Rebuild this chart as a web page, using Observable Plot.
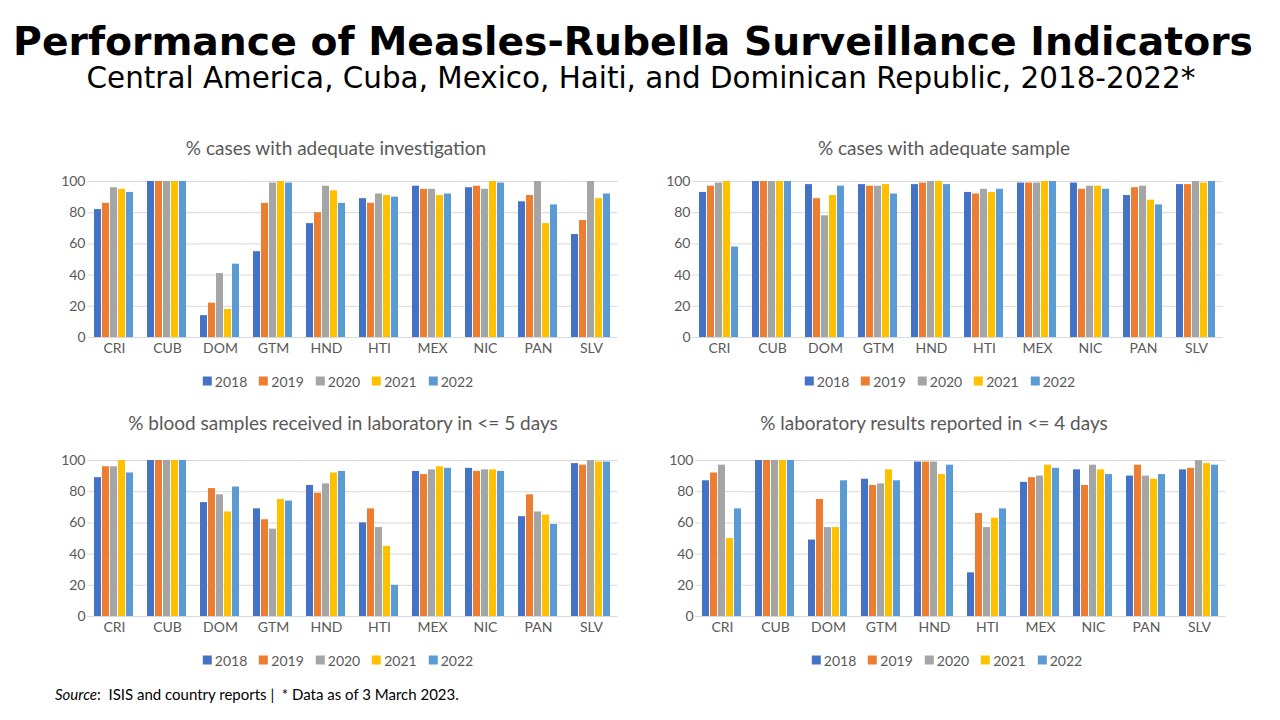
<!DOCTYPE html>
<html>
<head>
<meta charset="utf-8">
<script src="https://cdn.jsdelivr.net/npm/d3@7"></script>
<script src="https://cdn.jsdelivr.net/npm/@observablehq/plot@0.6"></script>
<style>
  html, body { margin: 0; padding: 0; background: #fff; }
  body { width: 1280px; height: 720px; position: relative; overflow: hidden; }
  .abs { position: absolute; }
  .center { transform: translate(-50%, -50%); white-space: nowrap; }
  #title { font-family: "DejaVu Sans", sans-serif; font-weight: bold; font-size: 39.3px; line-height: 1; color: #000; }
  #subtitle { font-family: "DejaVu Sans", sans-serif; font-size: 29.4px; line-height: 1; color: #000; }
  .ptitle { font-family: Lato, sans-serif; font-size: 19px; color: #595959; }
  .legend { font-family: Lato, sans-serif; font-size: 14px; color: #595959; display: flex; align-items: center; }
  .legend .item { display: flex; align-items: center; margin: 0 6px; }
  .legend .sw { width: 9px; height: 9px; margin-right: 3px; display: inline-block; }
  #source { font-family: Lato, sans-serif; font-size: 15px; color: #000; }
</style>
</head>
<body>
<div id="title" class="abs center" style="left:633px; top:42px;">Performance of Measles-Rubella Surveillance Indicators</div>
<div id="subtitle" class="abs center" style="left:641px; top:79px;">Central America, Cuba, Mexico, Haiti, and Dominican Republic, 2018-2022*</div>
<div id="source" class="abs" style="left:55px; top:685px;"><i>Source</i>:&nbsp; ISIS and country reports |&nbsp; * Data as of 3 March 2023.</div>
<script>
const countries = ["CRI","CUB","DOM","GTM","HND","HTI","MEX","NIC","PAN","SLV"];
const years = ["2018","2019","2020","2021","2022"];
const colors = ["#4472C4","#ED7D31","#A5A5A5","#FFC000","#5B9BD5"];
const yTicks = [0,20,40,60,80,100];

const titles = [
  "% cases with adequate investigation",
  "% cases with adequate sample",
  "% blood samples received in laboratory in <= 5 days",
  "% laboratory results reported in <= 4 days"
];

// rows: countries; columns: 2018..2022
const adequateInvestigation = [
  [82,86,96,95,93],
  [100,100,100,100,100],
  [14,22,41,18,47],
  [55,86,99,100,99],
  [73,80,97,94,86],
  [89,86,92,91,90],
  [97,95,95,91,92],
  [96,97,95,100,99],
  [87,91,100,73,85],
  [66,75,100,89,92]
];
const adequateSample = [
  [93,97,99,100,58],
  [100,100,100,100,100],
  [98,89,78,91,97],
  [98,97,97,98,92],
  [98,99,100,100,98],
  [93,92,95,93,95],
  [99,99,99,100,100],
  [99,95,97,97,95],
  [91,96,97,88,85],
  [98,98,100,99,100]
];
const bloodSamples5Days = [
  [89,96,96,100,92],
  [100,100,100,100,100],
  [73,82,78,67,83],
  [69,62,56,75,74],
  [84,79,85,92,93],
  [60,69,57,45,20],
  [93,91,94,96,95],
  [95,93,94,94,93],
  [64,78,67,65,59],
  [98,97,100,99,99]
];
const labResults4Days = [
  [87,92,97,50,69],
  [100,100,100,100,100],
  [49,75,57,57,87],
  [88,84,85,94,87],
  [99,99,99,91,97],
  [28,66,57,63,69],
  [86,89,90,97,95],
  [94,84,97,94,91],
  [90,97,90,88,91],
  [94,95,100,98,97]
];

const panels = [
  {data: adequateInvestigation, left: 40, top: 170, width: 590, tx: 336, ty: 147, lx: 338, ly: 381},
  {data: adequateSample, left: 643, top: 170, width: 593, tx: 944, ty: 147, lx: 940, ly: 381},
  {data: bloodSamples5Days, left: 40, top: 449, width: 590, tx: 343, ty: 422, lx: 338, ly: 660},
  {data: labResults4Days, left: 648, top: 449, width: 590, tx: 934, ty: 422, lx: 947, ly: 660}
];

function makeChart(values, width) {
  const rows = countries.flatMap((c, i) => years.map((y, j) => ({country: c, year: y, value: values[i][j]})));
  const mL = 45, mR = 10;
  const step = (width - mL - mR) / countries.length;
  const half = step * 0.125;
  return Plot.plot({
    width, height: 192,
    marginLeft: mL, marginRight: mR, marginTop: 11, marginBottom: 25,
    style: {fontFamily: "Lato, sans-serif", fontSize: "14px", color: "#595959", background: "transparent", overflow: "visible"},
    fx: {domain: countries, paddingInner: 0.25, paddingOuter: 0.125, label: null, axis: "bottom", tickSize: 0, tickPadding: 6},
    x: {domain: years, axis: null, paddingInner: 0.12, paddingOuter: 0},
    y: {domain: [0, 100], ticks: yTicks, label: null, tickSize: 0, tickPadding: 9},
    color: {domain: years, range: colors},
    marks: [
      Plot.ruleY(yTicks, {stroke: "#d9d9d9", strokeWidth: 1, insetLeft: -half, insetRight: -half}),
      Plot.barY(rows, {fx: "country", x: "year", y: "value", fill: "year"})
    ]
  });
}

panels.forEach((p, k) => {
  const chart = makeChart(p.data, p.width);
  chart.style.position = "absolute";
  chart.style.left = p.left + "px";
  chart.style.top = p.top + "px";
  document.body.appendChild(chart);

  const t = document.createElement("div");
  t.className = "abs center ptitle";
  t.style.left = p.tx + "px";
  t.style.top = p.ty + "px";
  t.textContent = titles[k];
  document.body.appendChild(t);

  const lg = document.createElement("div");
  lg.className = "abs center legend";
  lg.style.left = p.lx + "px";
  lg.style.top = p.ly + "px";
  years.forEach((y, j) => {
    const it = document.createElement("span");
    it.className = "item";
    const sw = document.createElement("span");
    sw.className = "sw";
    sw.style.background = colors[j];
    it.appendChild(sw);
    it.appendChild(document.createTextNode(y));
    lg.appendChild(it);
  });
  document.body.appendChild(lg);
});
</script>
</body>
</html>
